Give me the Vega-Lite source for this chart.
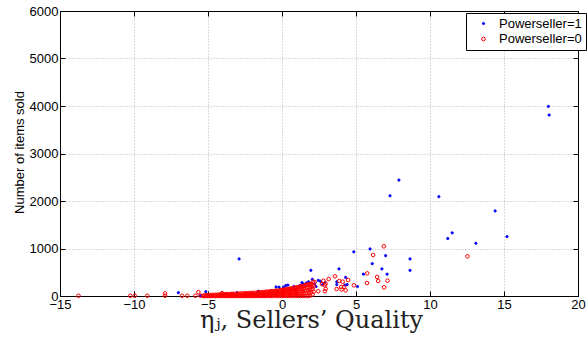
{
  "$schema": "https://vega.github.io/schema/vega-lite/v6.json",
  "autosize": "none",
  "width": 518,
  "height": 285,
  "padding": {"left": 60, "top": 11, "right": 9, "bottom": 42},
  "background": "white",
  "config": {
    "font": "Liberation Sans",
    "view": {"stroke": "black", "strokeWidth": 1}
  },
  "resolve": {"axis": {"x": "independent", "y": "independent"}},
  "layer": [
    {
      "data": {"values": [
        {"eta": 18.0, "items": 3990}, {"eta": 18.05, "items": 3810}, {"eta": 7.9, "items": 2440}, {"eta": 7.3, "items": 2110},
        {"eta": 10.6, "items": 2090}, {"eta": 14.4, "items": 1790}, {"eta": 11.5, "items": 1330}, {"eta": 11.2, "items": 1210},
        {"eta": 15.2, "items": 1250}, {"eta": 13.1, "items": 1110}, {"eta": 4.85, "items": 930}, {"eta": 5.95, "items": 990},
        {"eta": 7.0, "items": 850}, {"eta": 6.1, "items": 680}, {"eta": 8.65, "items": 780}, {"eta": 8.65, "items": 540},
        {"eta": 6.75, "items": 570}, {"eta": 7.1, "items": 460}, {"eta": 5.5, "items": 460}, {"eta": 5.1, "items": 200},
        {"eta": 3.85, "items": 570}, {"eta": 4.3, "items": 390}, {"eta": 4.4, "items": 240}, {"eta": 1.95, "items": 540},
        {"eta": 2.05, "items": 350}, {"eta": 2.45, "items": 330}, {"eta": 2.6, "items": 310}, {"eta": 2.75, "items": 240},
        {"eta": 2.9, "items": 280}, {"eta": 3.7, "items": 300}, {"eta": 3.7, "items": 240}, {"eta": 4.25, "items": 230},
        {"eta": -2.9, "items": 780}, {"eta": -7.0, "items": 70}, {"eta": -5.15, "items": 90}, {"eta": 0.1, "items": 185},
        {"eta": -3.05, "items": 70}, {"eta": -1.6, "items": 100}, {"eta": -0.4, "items": 190}, {"eta": -0.2, "items": 185},
        {"eta": 0.25, "items": 220}, {"eta": 0.4, "items": 230}, {"eta": 0.8, "items": 200}, {"eta": 1.35, "items": 280},
        {"eta": 1.45, "items": 250}, {"eta": 1.65, "items": 270}, {"eta": 1.8, "items": 300}, {"eta": 1.5, "items": 230},
        {"eta": 2.2, "items": 260}, {"eta": 2.3, "items": 200}, {"eta": -4.0, "items": 20}, {"eta": -2.0, "items": 40},
        {"eta": -1.0, "items": 60}, {"eta": 0.5, "items": 120}, {"eta": 1.0, "items": 150}, {"eta": 1.2, "items": 220},
        {"eta": 0.0, "items": 100}, {"eta": -5.5, "items": 10}
      ]},
      "mark": {"type": "point", "filled": false, "strokeWidth": 1, "opacity": 1},
      "encoding": {
        "x": {"field": "eta", "type": "quantitative",
          "scale": {"domain": [-15, 20], "nice": false, "zero": false},
          "axis": {"orient": "bottom", "values": [-15, -10, -5, 0, 5, 10, 15, 20], "format": "d",
            "title": "ηⱼ, Sellers’ Quality", "titleFont": "DejaVu Serif", "titleFontSize": 24, "titleFontWeight": "normal",
            "titleColor": "#222", "titleX": 251, "titleY": 31, "titleAlign": "center", "titleBaseline": "alphabetic",
            "labelFont": "Liberation Sans", "labelFontSize": 13, "labelColor": "black", "labelPadding": 7, "labelFlush": false, "labelOverlap": false,
            "tickSize": -5, "tickColor": "black", "domainColor": "black",
            "grid": true, "gridColor": "#b4b4b4", "gridDash": [1, 2], "gridWidth": 1}},
        "y": {"field": "items", "type": "quantitative",
          "scale": {"domain": [0, 6000], "nice": false, "zero": false},
          "axis": {"orient": "left", "values": [0, 1000, 2000, 3000, 4000, 5000, 6000], "format": "d",
            "title": "Number of items sold", "titleFont": "Liberation Sans", "titleFontSize": 13, "titleFontWeight": "normal", "titleColor": "black",
            "titleX": -41, "titleY": 141, "titleAngle": -90, "titleAlign": "center", "titleBaseline": "middle",
            "labelFont": "Liberation Sans", "labelFontSize": 13, "labelColor": "black", "labelPadding": 7, "labelOverlap": false,
            "tickSize": -5, "tickColor": "black", "domainColor": "black",
            "grid": true, "gridColor": "#b4b4b4", "gridDash": [1, 2], "gridWidth": 1}},
        "fill": {"datum": "Powerseller=1", "type": "nominal",
          "scale": {"domain": ["Powerseller=1", "Powerseller=0"], "range": ["#0000ff", "transparent"]},
          "legend": {"title": null, "orient": "none", "legendX": 406, "legendY": 2, "padding": 4, "strokeColor": "black",
            "fillColor": "white", "labelFont": "Liberation Sans", "labelFontSize": 13, "labelColor": "black", "symbolOffset": 7, "labelOffset": 9,
            "rowPadding": 1.5, "symbolType": "circle", "symbolStrokeWidth": 1, "cornerRadius": 0}},
        "stroke": {"datum": "Powerseller=1", "type": "nominal",
          "scale": {"domain": ["Powerseller=1", "Powerseller=0"], "range": ["#0000ff", "#ff0000"]},
          "legend": {"title": null, "orient": "none", "legendX": 406, "legendY": 2, "padding": 4, "strokeColor": "black",
            "fillColor": "white", "labelFont": "Liberation Sans", "labelFontSize": 13, "labelColor": "black", "symbolOffset": 7, "labelOffset": 9,
            "rowPadding": 1.5, "symbolType": "circle", "symbolStrokeWidth": 1, "cornerRadius": 0}},
        "size": {"datum": "Powerseller=1", "type": "nominal",
          "scale": {"domain": ["Powerseller=1", "Powerseller=0"], "range": [5, 13]},
          "legend": {"title": null, "orient": "none", "legendX": 406, "legendY": 2, "padding": 4, "strokeColor": "black",
            "fillColor": "white", "labelFont": "Liberation Sans", "labelFontSize": 13, "labelColor": "black", "symbolOffset": 7, "labelOffset": 9,
            "rowPadding": 1.5, "symbolType": "circle", "symbolStrokeWidth": 1, "cornerRadius": 0}}
      }
    },
    {
      "data": {"values": [
        {"eta": -13.75, "items": 5}, {"eta": -10.25, "items": 5}, {"eta": -9.95, "items": 5}, {"eta": -9.1, "items": 5},
        {"eta": -7.9, "items": 55}, {"eta": -7.9, "items": 5}, {"eta": -6.75, "items": 5}, {"eta": -6.4, "items": 5},
        {"eta": -5.85, "items": 5}, {"eta": -5.65, "items": 80}, {"eta": -5.5, "items": 5}, {"eta": -4.05, "items": 60},
        {"eta": 6.88, "items": 1046}, {"eta": 6.16, "items": 863}, {"eta": 12.53, "items": 835}, {"eta": 5.76, "items": 477},
        {"eta": 5.74, "items": 274}, {"eta": 6.43, "items": 400}, {"eta": 6.5, "items": 316}, {"eta": 7.13, "items": 323},
        {"eta": 6.9, "items": 183}, {"eta": 4.47, "items": 337}, {"eta": 3.58, "items": 414}, {"eta": 3.87, "items": 316},
        {"eta": 4.1, "items": 302}, {"eta": 3.69, "items": 147}, {"eta": 4.03, "items": 137}, {"eta": 4.3, "items": 119},
        {"eta": 4.86, "items": 225}, {"eta": 3.15, "items": 358}, {"eta": 2.9, "items": 225}, {"eta": 2.95, "items": 150},
        {"eta": 2.9, "items": 100}, {"eta": 2.45, "items": 100}, {"eta": 1.96, "items": 252}, {"eta": 2.1, "items": 300},
        {"eta": 2.2, "items": 290}, {"eta": 2.7, "items": 250}, {"eta": 2.8, "items": 320}, {"eta": 2.95, "items": 260},
        {"eta": 4.0, "items": 190}, {"eta": 4.2, "items": 190},
        {"eta": -5.3, "items": 0}, {"eta": -5.3, "items": 10}, {"eta": -5.22, "items": 0}, {"eta": -5.14, "items": 5},
        {"eta": -5.14, "items": 15}, {"eta": -5.06, "items": 0}, {"eta": -4.98, "items": 0}, {"eta": -4.98, "items": 20},
        {"eta": -4.9, "items": 5}, {"eta": -4.82, "items": 0}, {"eta": -4.82, "items": 20}, {"eta": -4.74, "items": 10},
        {"eta": -4.66, "items": 0}, {"eta": -4.66, "items": 25}, {"eta": -4.58, "items": 5}, {"eta": -4.5, "items": 0},
        {"eta": -4.5, "items": 25}, {"eta": -4.42, "items": 10}, {"eta": -4.34, "items": 0}, {"eta": -4.34, "items": 30},
        {"eta": -4.26, "items": 15}, {"eta": -4.18, "items": 0}, {"eta": -4.18, "items": 30}, {"eta": -4.1, "items": 5},
        {"eta": -4.1, "items": 35}, {"eta": -4.02, "items": 0}, {"eta": -4.02, "items": 20}, {"eta": -3.94, "items": 10},
        {"eta": -3.94, "items": 35}, {"eta": -3.86, "items": 0}, {"eta": -3.86, "items": 25}, {"eta": -3.78, "items": 5},
        {"eta": -3.78, "items": 40}, {"eta": -3.7, "items": 0}, {"eta": -3.7, "items": 20}, {"eta": -3.62, "items": 10},
        {"eta": -3.62, "items": 40}, {"eta": -3.54, "items": 0}, {"eta": -3.54, "items": 25}, {"eta": -3.46, "items": 5},
        {"eta": -3.46, "items": 40}, {"eta": -3.38, "items": 0}, {"eta": -3.38, "items": 20}, {"eta": -3.38, "items": 45},
        {"eta": -3.3, "items": 10}, {"eta": -3.3, "items": 35}, {"eta": -3.22, "items": 0}, {"eta": -3.22, "items": 45},
        {"eta": -3.14, "items": 5}, {"eta": -3.14, "items": 25}, {"eta": -3.06, "items": 0}, {"eta": -3.06, "items": 50},
        {"eta": -2.98, "items": 15}, {"eta": -2.98, "items": 35}, {"eta": -2.9, "items": 0}, {"eta": -2.9, "items": 50},
        {"eta": -2.82, "items": 10}, {"eta": -2.82, "items": 30}, {"eta": -2.74, "items": 0}, {"eta": -2.74, "items": 55},
        {"eta": -2.66, "items": 5}, {"eta": -2.66, "items": 35}, {"eta": -2.58, "items": 0}, {"eta": -2.58, "items": 20},
        {"eta": -2.58, "items": 55}, {"eta": -2.5, "items": 10}, {"eta": -2.5, "items": 40}, {"eta": -2.42, "items": 0},
        {"eta": -2.42, "items": 60}, {"eta": -2.34, "items": 5}, {"eta": -2.34, "items": 30}, {"eta": -2.26, "items": 0},
        {"eta": -2.26, "items": 45}, {"eta": -2.26, "items": 60}, {"eta": -2.18, "items": 15}, {"eta": -2.18, "items": 35},
        {"eta": -2.1, "items": 0}, {"eta": -2.1, "items": 65}, {"eta": -2.02, "items": 10}, {"eta": -2.02, "items": 40},
        {"eta": -1.94, "items": 0}, {"eta": -1.94, "items": 25}, {"eta": -1.94, "items": 65}, {"eta": -1.86, "items": 5},
        {"eta": -1.86, "items": 50}, {"eta": -1.78, "items": 0}, {"eta": -1.78, "items": 30}, {"eta": -1.78, "items": 70},
        {"eta": -1.7, "items": 10}, {"eta": -1.7, "items": 50}, {"eta": -1.62, "items": 0}, {"eta": -1.62, "items": 35},
        {"eta": -1.62, "items": 75}, {"eta": -1.54, "items": 15}, {"eta": -1.54, "items": 55}, {"eta": -1.46, "items": 0},
        {"eta": -1.46, "items": 30}, {"eta": -1.46, "items": 75}, {"eta": -1.38, "items": 10}, {"eta": -1.38, "items": 55},
        {"eta": -1.38, "items": 80}, {"eta": -1.3, "items": 0}, {"eta": -1.3, "items": 40}, {"eta": -1.22, "items": 20},
        {"eta": -1.22, "items": 65}, {"eta": -1.22, "items": 85}, {"eta": -1.14, "items": 0}, {"eta": -1.14, "items": 45},
        {"eta": -1.06, "items": 10}, {"eta": -1.06, "items": 70}, {"eta": -1.06, "items": 90}, {"eta": -0.98, "items": 0},
        {"eta": -0.98, "items": 40}, {"eta": -0.98, "items": 90}, {"eta": -0.9, "items": 20}, {"eta": -0.9, "items": 65},
        {"eta": -0.82, "items": 0}, {"eta": -0.82, "items": 45}, {"eta": -0.82, "items": 95}, {"eta": -0.74, "items": 15},
        {"eta": -0.74, "items": 70}, {"eta": -0.74, "items": 100}, {"eta": -0.66, "items": 0}, {"eta": -0.66, "items": 40},
        {"eta": -0.66, "items": 100}, {"eta": -0.58, "items": 20}, {"eta": -0.58, "items": 75}, {"eta": -0.5, "items": 0},
        {"eta": -0.5, "items": 50}, {"eta": -0.5, "items": 105}, {"eta": -0.42, "items": 25}, {"eta": -0.42, "items": 80},
        {"eta": -0.42, "items": 110}, {"eta": -0.34, "items": 0}, {"eta": -0.34, "items": 55}, {"eta": -0.34, "items": 110},
        {"eta": -0.26, "items": 20}, {"eta": -0.26, "items": 85}, {"eta": -0.18, "items": 0}, {"eta": -0.18, "items": 50},
        {"eta": -0.18, "items": 115}, {"eta": -0.1, "items": 25}, {"eta": -0.1, "items": 90}, {"eta": -0.1, "items": 120},
        {"eta": -0.02, "items": 0}, {"eta": -0.02, "items": 60}, {"eta": -0.02, "items": 125}, {"eta": 0.06, "items": 30},
        {"eta": 0.06, "items": 95}, {"eta": 0.06, "items": 130}, {"eta": 0.14, "items": 0}, {"eta": 0.14, "items": 65},
        {"eta": 0.14, "items": 130}, {"eta": 0.22, "items": 25}, {"eta": 0.22, "items": 100}, {"eta": 0.22, "items": 135},
        {"eta": 0.3, "items": 0}, {"eta": 0.3, "items": 60}, {"eta": 0.3, "items": 140}, {"eta": 0.38, "items": 30},
        {"eta": 0.38, "items": 105}, {"eta": 0.38, "items": 145}, {"eta": 0.46, "items": 0}, {"eta": 0.46, "items": 70},
        {"eta": 0.46, "items": 150}, {"eta": 0.54, "items": 35}, {"eta": 0.54, "items": 110}, {"eta": 0.54, "items": 150},
        {"eta": 0.62, "items": 0}, {"eta": 0.62, "items": 75}, {"eta": 0.62, "items": 155}, {"eta": 0.7, "items": 30},
        {"eta": 0.7, "items": 120}, {"eta": 0.7, "items": 160}, {"eta": 0.78, "items": 0}, {"eta": 0.78, "items": 80},
        {"eta": 0.78, "items": 165}, {"eta": 0.86, "items": 40}, {"eta": 0.86, "items": 125}, {"eta": 0.86, "items": 170},
        {"eta": 0.94, "items": 0}, {"eta": 0.94, "items": 85}, {"eta": 0.94, "items": 175}, {"eta": 1.02, "items": 35},
        {"eta": 1.02, "items": 130}, {"eta": 1.02, "items": 180}, {"eta": 1.1, "items": 0}, {"eta": 1.1, "items": 90},
        {"eta": 1.1, "items": 185}, {"eta": 1.18, "items": 45}, {"eta": 1.18, "items": 140}, {"eta": 1.18, "items": 190},
        {"eta": 1.26, "items": 0}, {"eta": 1.26, "items": 95}, {"eta": 1.26, "items": 200}, {"eta": 1.34, "items": 50},
        {"eta": 1.34, "items": 150}, {"eta": 1.34, "items": 205}, {"eta": 1.42, "items": 0}, {"eta": 1.42, "items": 100},
        {"eta": 1.42, "items": 210}, {"eta": 1.5, "items": 55}, {"eta": 1.5, "items": 160}, {"eta": 1.5, "items": 220},
        {"eta": 1.58, "items": 0}, {"eta": 1.58, "items": 110}, {"eta": 1.58, "items": 225}, {"eta": 1.66, "items": 60},
        {"eta": 1.66, "items": 170}, {"eta": 1.66, "items": 230}, {"eta": 1.74, "items": 0}, {"eta": 1.74, "items": 120},
        {"eta": 1.74, "items": 240}, {"eta": 1.82, "items": 70}, {"eta": 1.82, "items": 180}, {"eta": 1.82, "items": 245},
        {"eta": 1.9, "items": 10}, {"eta": 1.9, "items": 130}, {"eta": 1.9, "items": 250}, {"eta": 1.98, "items": 80},
        {"eta": 1.98, "items": 190}, {"eta": 2.06, "items": 30}, {"eta": 2.06, "items": 150}, {"eta": 2.06, "items": 230},
        {"eta": 2.14, "items": 90}, {"eta": 2.14, "items": 200}
      ]},
      "mark": {"type": "point", "filled": false, "strokeWidth": 1, "opacity": 1},
      "encoding": {
        "x": {"field": "eta", "type": "quantitative",
          "scale": {"domain": [-15, 20], "nice": false, "zero": false},
          "axis": {"orient": "top", "values": [-15, -10, -5, 0, 5, 10, 15, 20], "labels": false, "title": null,
            "grid": false, "tickSize": -5, "tickColor": "black", "domainColor": "black"}},
        "y": {"field": "items", "type": "quantitative",
          "scale": {"domain": [0, 6000], "nice": false, "zero": false},
          "axis": {"orient": "right", "values": [0, 1000, 2000, 3000, 4000, 5000, 6000], "labels": false, "title": null,
            "grid": false, "tickSize": -5, "tickColor": "black", "domainColor": "black"}},
        "fill": {"datum": "Powerseller=0", "type": "nominal"},
        "stroke": {"datum": "Powerseller=0", "type": "nominal"},
        "size": {"datum": "Powerseller=0", "type": "nominal"}
      }
    }
  ]
}
